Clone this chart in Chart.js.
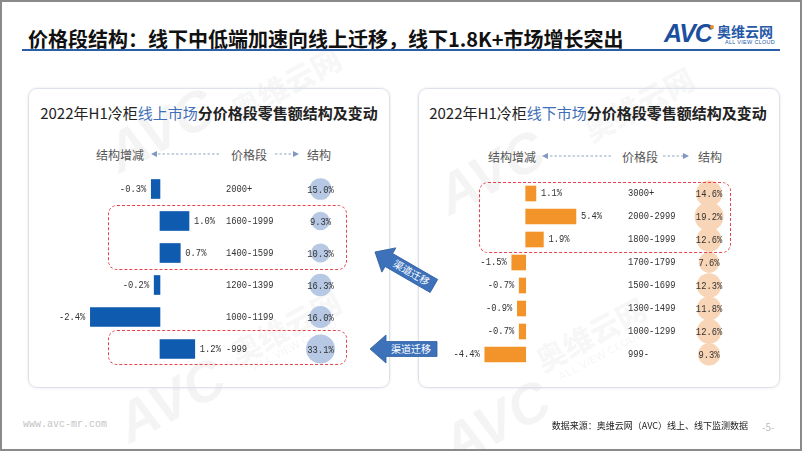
<!DOCTYPE html>
<html><head><meta charset="utf-8">
<script src="https://cdn.jsdelivr.net/npm/chart.js@4"></script>
<style>
body{margin:0;background:#fff;}
#page{position:relative;width:802px;height:451px;overflow:hidden;background:#fff;font-family:"Noto Sans CJK SC","Noto Sans",sans-serif;color:#222;}
.abs{position:absolute;white-space:nowrap;}
.panel{position:absolute;border:1px solid #dde2ea;border-radius:9px;box-shadow:0 0 3px rgba(0,0,0,0.10);box-sizing:border-box;}
.ptitle{position:absolute;font-size:15px;transform:translate(-50%,-50%);white-space:nowrap;color:#222;}
.ptitle b{font-weight:700;}
.ptitle .hl{color:#3f6fb8;}
.leg{position:absolute;font-size:12px;color:#555;transform:translate(-50%,-50%);white-space:nowrap;}
.dbox{position:absolute;border:1.4px dashed #e8434d;border-radius:9px;box-sizing:border-box;}
.wm{position:absolute;color:rgba(0,0,0,0.045);font-weight:900;white-space:nowrap;transform-origin:left top;transform:rotate(-28deg);}
.wm.en{font-family:'Liberation Sans';font-style:italic;}
canvas{position:absolute;}
</style></head>
<body>
<div id="page">
  <!-- watermarks -->
  <div class="wm en" style="left:95px;top:128px;font-size:56px;">AVC</div>
  <div class="wm" style="left:222px;top:92px;font-size:30px;">奥维云网</div>
  <div class="wm en" style="left:105px;top:398px;font-size:56px;">AVC</div>
  <div class="wm" style="left:222px;top:335px;font-size:30px;">奥维云网</div>
  <div class="wm en" style="left:250px;top:362px;font-size:11px;font-style:normal;">ALL VIEW CLOUD</div>
  <div class="wm en" style="left:425px;top:170px;font-size:56px;">AVC</div>
  <div class="wm" style="left:575px;top:112px;font-size:30px;">奥维云网</div>
  <div class="wm" style="left:527px;top:342px;font-size:30px;">奥维云网</div>
  <div class="wm en" style="left:556px;top:372px;font-size:11px;font-style:normal;">ALL VIEW CLOUD</div>
  <div class="wm en" style="left:430px;top:420px;font-size:56px;">AVC</div>

  <!-- main title -->
  <div class="abs" style="left:28px;top:24px;font-size:20px;font-weight:700;color:#111;">价格段结构：线下中低端加速向线上迁移，线下1.8K+市场增长突出</div>
  <div class="abs" style="left:22px;top:49px;width:758px;height:2px;background:#2a5ea8;"></div>
  <!-- logo -->
  <div class="abs" style="left:664px;top:19px;font-size:25px;font-weight:700;font-style:italic;font-family:'Liberation Sans';color:#1d4f9f;letter-spacing:-1px;">AVC</div>
  <div class="abs" style="left:710px;top:25px;width:4px;height:4px;border-radius:2px;background:#f0901e;"></div>
  <div class="abs" style="left:717px;top:21px;font-size:14px;font-weight:700;color:#2458a6;">奥维云网</div>
  <div class="abs" style="left:725px;top:39px;font-size:5.5px;font-family:'Liberation Sans';color:#2458a6;letter-spacing:0.3px;">ALL VIEW CLOUD</div>

  <!-- panels -->
  <div class="panel" style="left:28px;top:88px;width:362px;height:300px;"></div>
  <div class="panel" style="left:418px;top:88px;width:362px;height:300px;"></div>

  <div class="ptitle" style="left:209px;top:112px;">2022年H1冷柜<span class="hl">线上市场</span><b>分价格段零售额结构及变动</b></div>
  <div class="ptitle" style="left:598px;top:112px;">2022年H1冷柜<span class="hl">线下市场</span><b>分价格段零售额结构及变动</b></div>

  <div class="leg" style="left:120px;top:154px;">结构增减</div>
  <div class="leg" style="left:249px;top:154px;">价格段</div>
  <div class="leg" style="left:319px;top:154px;">结构</div>
  <div class="leg" style="left:512px;top:156px;">结构增减</div>
  <div class="leg" style="left:640px;top:156px;">价格段</div>
  <div class="leg" style="left:710px;top:156px;">结构</div>

  <svg class="abs" style="left:0;top:0;" width="802" height="451">
    <g stroke="#8ea4c6" stroke-width="1.2" stroke-dasharray="2.5,2" fill="none">
      <line x1="219" y1="154" x2="156" y2="154"/>
      <line x1="275" y1="154" x2="294" y2="154"/>
      <line x1="611" y1="156" x2="547" y2="156"/>
      <line x1="663" y1="156" x2="684" y2="156"/>
    </g>
    <g fill="#7f98c0">
      <polygon points="151,154 157,151 157,157"/>
      <polygon points="299,154 293,151 293,157"/>
      <polygon points="542,156 548,153 548,159"/>
      <polygon points="689,156 683,153 683,159"/>
    </g>
    <g transform="translate(375,252) rotate(30)">
      <polygon points="0,0 16,-14 16,-7.5 68,-7.5 68,7.5 16,7.5 16,14" fill="#3d72bb" stroke="#2f5f9f" stroke-width="0.8"/>
      <text x="42" y="3.5" fill="#fff" font-size="10" text-anchor="middle" font-family="Noto Sans CJK SC">渠道迁移</text>
    </g>
    <g transform="translate(370,349)">
      <polygon points="0,0 16,-14 16,-7.5 67,-7.5 67,7.5 16,7.5 16,14" fill="#3d72bb" stroke="#2f5f9f" stroke-width="0.8"/>
      <text x="41" y="3.5" fill="#fff" font-size="10" text-anchor="middle" font-family="Noto Sans CJK SC">渠道迁移</text>
    </g>
  </svg>

  <canvas id="cOnline" width="392" height="222" style="left:13px;top:158px;"></canvas>
  <canvas id="cOffline" width="392" height="214" style="left:403px;top:167px;"></canvas>

  <div class="dbox" style="left:108px;top:205px;width:239px;height:65px;"></div>
  <div class="dbox" style="left:108px;top:330px;width:239px;height:35px;"></div>
  <div class="dbox" style="left:479px;top:182px;width:252px;height:71px;"></div>

  <!-- footer -->
  <div class="abs" style="left:23px;top:419px;font-size:10px;font-family:'Liberation Mono';color:#c4c4c4;">www.avc-mr.com</div>
  <div class="abs" style="right:54px;top:419px;font-size:9px;color:#222;">数据来源：奥维云网（AVC）线上、线下监测数据</div>
  <div class="abs" style="left:762px;top:419px;font-size:10px;color:#bbb;">-5-</div>

  <div class="abs" style="left:0;top:0;width:802px;height:451px;border:2px solid #8a8a8a;box-sizing:border-box;"></div>
</div>
<script>
// ---- data ----
const onlineRanges  = ['2000+','1600-1999','1400-1599','1200-1399','1000-1199','-999'];
const onlineChange  = [-0.3, 1.0, 0.7, -0.2, -2.4, 1.2];
const onlineShare   = [15.0, 9.3, 10.3, 16.3, 16.0, 33.1];

const offlineRanges = ['3000+','2000-2999','1800-1999','1700-1799','1500-1699','1300-1499','1000-1299','999-'];
const offlineChange = [1.1, 5.4, 1.9, -1.5, -0.7, -0.9, -0.7, -4.4];
const offlineShare  = [14.6, 19.2, 12.6, 7.6, 12.3, 11.8, 12.6, 9.3];

// ---- helpers ----
function drawTxt(ctx, t, x, y, align){
  ctx.save(); ctx.translate(x, y); ctx.scale(0.88, 1);
  ctx.textAlign = align; ctx.fillText(t, 0, 0); ctx.restore();
}
function radiusOf(v, maxV){ return 3.4 + 11.1 * Math.sqrt(v / maxV); }

function makeLabelPlugin(shares, priceX){
  return {
    id: 'rowLabels',
    afterDatasetsDraw(chart){
      const ctx = chart.ctx;
      const barMeta = chart.getDatasetMeta(0);
      const bubMeta = chart.getDatasetMeta(1);
      const vals = chart.data.datasets[0].data;
      const left = chart.chartArea.left;
      ctx.save();
      ctx.fillStyle = '#333';
      ctx.font = '10px "Liberation Mono", monospace';
      ctx.textBaseline = 'middle';
      barMeta.data.forEach((el, i) => {
        const v = vals[i];
        const txt = v.toFixed(1) + '%';
        if (v >= 0) drawTxt(ctx, txt, el.x + 5, el.y, 'left');
        else drawTxt(ctx, txt, el.x - 5, el.y, 'right');
        drawTxt(ctx, chart.data.labels[i], left + priceX, el.y, 'left');
      });
      bubMeta.data.forEach((el, i) => {
        drawTxt(ctx, shares[i].toFixed(1) + '%', el.x, el.y + 1, 'center');
      });
      ctx.restore();
    }
  };
}

function makeChart(id, ranges, changes, shares, cfg){
  const maxShare = Math.max(...shares);
  return new Chart(document.getElementById(id), {
    type: 'bar',
    data: {
      labels: ranges,
      datasets: [
        { type: 'bar', data: changes, backgroundColor: cfg.barColor, barThickness: cfg.barThickness,
          borderWidth: 0, clip: false, xAxisID: 'x', yAxisID: 'y' },
        { type: 'bubble', data: shares.map((v, i) => ({ x: cfg.shareCol, y: ranges[i], r: radiusOf(v, maxShare) })),
          backgroundColor: cfg.bubbleColor, borderWidth: 0, clip: false, xAxisID: 'xs', yAxisID: 'y' }
      ]
    },
    options: {
      indexAxis: 'y',
      responsive: false,
      animation: false,
      events: [],
      layout: { padding: 15 },
      plugins: { legend: { display: false }, tooltip: { enabled: false } },
      scales: {
        x:  { type: 'linear', axis: 'x', min: cfg.xMin, max: cfg.xMax, display: false },
        xs: { type: 'linear', axis: 'x', min: 0, max: 1, display: false },
        y:  { type: 'category', display: false, offset: true }
      }
    },
    plugins: [makeLabelPlugin(shares, cfg.priceX)]
  });
}

makeChart('cOnline', onlineRanges, onlineChange, onlineShare, {
  barColor: '#0f5bb0', bubbleColor: '#b6c8e4', barThickness: 19,
  xMin: -4.55, xMax: 7.93, shareCol: 0.808, priceX: 198
});
makeChart('cOffline', offlineRanges, offlineChange, offlineShare, {
  barColor: '#f29429', bubbleColor: '#f8d5b6', barThickness: 15,
  xMin: -11.58, xMax: 27.34, shareCol: 0.804, priceX: 210
});
</script>
</body></html>
